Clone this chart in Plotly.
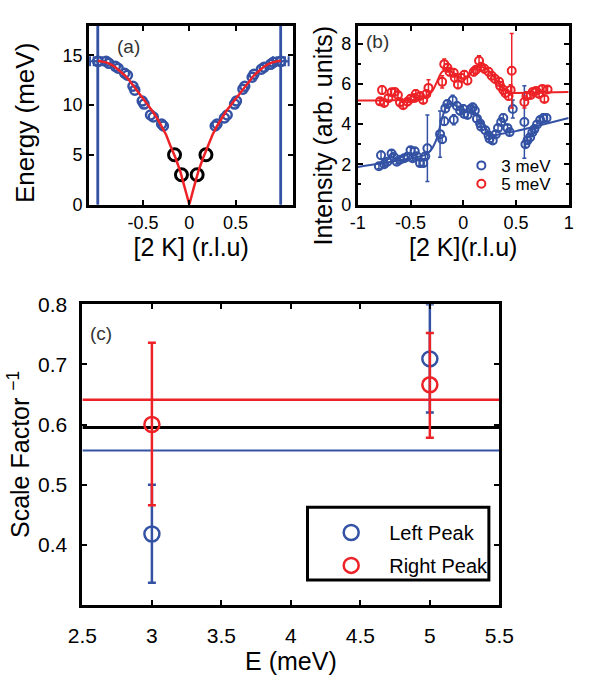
import plotly.graph_objects as go

W, H = 596, 676
BLUE = '#3452a4'
RED = '#ec2227'
FONT = 'Liberation Sans, Arial, sans-serif'

# ---------------- Panel (a): dispersion ----------------
a_blue_x = [-0.90, -0.87, -0.80, -0.77, -0.70, -0.67, -0.61, -0.59, -0.51, -0.49, -0.42, -0.39, -0.30, -0.28,
            0.28, 0.30, 0.38, 0.41, 0.49, 0.51, 0.58, 0.60, 0.68, 0.70, 0.78, 0.81, 0.88, 0.91]
a_blue_y = [14.4, 14.2, 13.9, 13.7, 13.2, 13.0, 11.9, 11.5, 10.4, 10.1, 9.0, 8.8, 8.1, 7.9,
            7.9, 8.1, 8.7, 9.0, 10.1, 10.4, 11.6, 11.9, 12.8, 13.1, 13.6, 13.8, 14.1, 14.3]
a_black_x = [-0.16, -0.085, 0.085, 0.18]
a_black_y = [5.0, 3.0, 3.0, 5.0]
a_end_x = [-0.99, -0.99, 0.99, 0.99]
a_end_y = [14.4, 14.4, 14.4, 14.4]
a_end_xerr = [0.045, 0.085, 0.045, 0.085]
a_end_yerr = [40, 40, 40, 40]
a_fit_x = [-0.99, -0.95, -0.9, -0.85, -0.8, -0.75, -0.7, -0.65, -0.6, -0.55, -0.5, -0.45, -0.4, -0.35, -0.3,
           -0.25, -0.2, -0.15, -0.1, -0.05, 0.0, 0.05, 0.1, 0.15, 0.2, 0.25, 0.3, 0.35, 0.4, 0.45, 0.5,
           0.55, 0.6, 0.65, 0.7, 0.75, 0.8, 0.85, 0.9, 0.95, 0.99]
a_fit_y = [14.45, 14.4, 14.3, 14.1, 13.8, 13.4, 13.0, 12.5, 11.9, 11.2, 10.6, 10.0, 9.4, 8.7, 7.9,
           7.0, 5.8, 4.7, 3.4, 1.75, 0.0, 1.75, 3.4, 4.7, 5.8, 7.0, 7.9, 8.7, 9.4, 10.0, 10.6,
           11.2, 11.9, 12.5, 13.0, 13.4, 13.8, 14.1, 14.3, 14.4, 14.45]
a_xticks = [-0.5, 0, 0.5]
a_xticktext = ['-0.5', '0', '0.5']
a_yticks = [0, 5, 10, 15]

# ---------------- Panel (b): intensity cuts ----------------
b3_x = [-0.80, -0.78, -0.75, -0.72, -0.68, -0.66, -0.63, -0.60, -0.56, -0.53, -0.50, -0.48, -0.46, -0.44, -0.41,
        -0.38, -0.36, -0.34, -0.22, -0.20, -0.18, -0.17, -0.15, -0.10, -0.09, -0.06, -0.03, 0.00, 0.01, 0.04,
        0.07, 0.09, 0.11, 0.13, 0.16, 0.17, 0.21, 0.24, 0.25, 0.28, 0.31, 0.33, 0.36, 0.38, 0.42,
        0.44, 0.47, 0.58, 0.59, 0.61, 0.635, 0.655, 0.675, 0.70, 0.73, 0.76, 0.79]
b3_y = [1.90, 2.45, 2.00, 2.13, 2.54, 2.38, 2.13, 2.23, 2.30, 2.38, 2.70, 2.30, 2.65, 2.40, 2.06,
        2.06, 2.40, 2.80, 3.50, 3.25, 4.14, 4.78, 5.00, 5.18, 4.22, 4.90, 4.67, 4.75, 4.50, 4.45,
        4.75, 4.83, 4.67, 4.27, 4.03, 3.87, 3.69, 3.43, 3.27, 3.18, 3.50, 3.80, 4.10, 4.30, 3.80,
        3.60, 4.75, 4.10, 3.00, 3.20, 3.35, 3.58, 3.75, 3.98, 4.20, 4.30, 4.30]
b3_err = [0.12, 0.2, 0.12, 0.12, 0.15, 0.12, 0.12, 0.12, 0.12, 0.12, 0.15, 0.12, 0.15, 0.12, 0.12,
          0.12, 0.12, 1.65, 1.15, 0.2, 0.2, 0.2, 0.2, 0.25, 0.25, 0.2, 0.2, 0.2, 0.15, 0.15,
          0.15, 0.2, 0.15, 0.15, 0.15, 0.15, 0.15, 0.15, 0.15, 0.15, 0.15, 0.15, 0.15, 0.2, 0.15,
          0.15, 0.45, 1.8, 0.15, 0.15, 0.15, 0.15, 0.15, 0.15, 0.15, 0.2, 0.15]
b5_x = [-0.79, -0.77, -0.75, -0.71, -0.68, -0.65, -0.62, -0.60, -0.57, -0.53, -0.50, -0.46, -0.45, -0.41, -0.38,
        -0.35, -0.33, -0.20, -0.18, -0.15, -0.13, -0.09, -0.08, -0.05, -0.02, 0.01, 0.04, 0.10, 0.12, 0.15,
        0.17, 0.20, 0.24, 0.27, 0.30, 0.34, 0.35, 0.38, 0.40, 0.43, 0.45, 0.46, 0.58, 0.60, 0.64,
        0.66, 0.69, 0.72, 0.75, 0.77, 0.80]
b5_y = [5.13, 5.69, 5.05, 5.29, 5.58, 5.60, 5.45, 5.08, 4.94, 5.11, 5.26, 5.30, 5.50, 5.40, 5.20,
        5.50, 5.80, 6.10, 6.98, 6.80, 6.60, 6.55, 6.30, 5.97, 6.30, 6.45, 6.17, 6.60, 6.70, 7.15,
        6.85, 6.75, 6.60, 6.40, 6.25, 6.10, 5.90, 5.70, 5.55, 5.40, 5.70, 6.65, 5.10, 5.40, 5.45,
        5.60, 5.65, 5.50, 5.75, 5.25, 5.72]
b5_err = [0.15, 0.2, 0.15, 0.15, 0.15, 0.15, 0.15, 0.15, 0.15, 0.15, 0.15, 0.15, 0.2, 0.15, 0.15,
          0.2, 0.4, 0.3, 0.25, 0.2, 0.2, 0.2, 0.2, 0.2, 0.2, 0.2, 0.2, 0.2, 0.2, 0.25,
          0.2, 0.2, 0.2, 0.2, 0.2, 0.2, 0.2, 0.2, 0.2, 0.2, 0.25, 1.85, 0.3, 0.2, 0.15,
          0.15, 0.15, 0.15, 0.15, 0.15, 0.15]
b3_fit_x = [-1.0, -0.6, -0.4, -0.35, -0.3, -0.25, -0.2, -0.15, -0.1, -0.05, 0.0, 0.05, 0.1, 0.15, 0.2, 0.25,
            0.3, 0.35, 0.4, 0.5, 0.7, 1.0]
b3_fit_y = [1.87, 2.2, 2.4, 2.5, 2.75, 3.3, 4.3, 4.95, 5.0, 4.85, 4.7, 4.6, 4.6, 4.35, 3.9, 3.55,
            3.45, 3.5, 3.55, 3.65, 3.9, 4.3]
b5_fit_x = [-1.0, -0.6, -0.4, -0.3, -0.25, -0.2, -0.15, -0.1, -0.05, 0.0, 0.05, 0.1, 0.15, 0.2, 0.25, 0.3,
            0.35, 0.4, 0.45, 0.5, 1.0]
b5_fit_y = [5.17, 5.2, 5.25, 5.6, 6.1, 6.6, 6.7, 6.55, 6.35, 6.25, 6.4, 6.7, 6.85, 6.8, 6.6, 6.3,
            5.95, 5.65, 5.55, 5.55, 5.6]
b_xticks = [-1, -0.5, 0, 0.5, 1]
b_xticktext = ['-1', '-0.5', '0', '0.5', '1']
b_yticks = [0, 2, 4, 6, 8]

# ---------------- Panel (c): scale factors ----------------
c_E = [3, 5]
c_left = [0.418, 0.709]
c_left_up = [0.082, 0.091]
c_left_dn = [0.081, 0.089]
c_right = [0.600, 0.666]
c_right_up = [0.136, 0.086]
c_right_dn = [0.134, 0.088]
c_hlines = [0.641, 0.595, 0.557]
c_hline_colors = [RED, 'black', BLUE]
c_hline_widths = [2.5, 3, 2]
c_xticks = [2.5, 3, 3.5, 4, 4.5, 5, 5.5]
c_yticks = [0.4, 0.5, 0.6, 0.7, 0.8]

fig = go.Figure()

# panel (a)
fig.add_trace(go.Scatter(x=a_end_x, y=a_end_y, mode='markers', xaxis='x', yaxis='y', showlegend=False,
                         marker=dict(symbol='circle-open', size=9, color=BLUE, line=dict(width=2.5)),
                         error_x=dict(type='data', array=a_end_xerr, color=BLUE, thickness=2, width=5),
                         error_y=dict(type='data', array=a_end_yerr, color=BLUE, thickness=2.5, width=0)))
fig.add_trace(go.Scatter(x=a_blue_x, y=a_blue_y, mode='markers', xaxis='x', yaxis='y', showlegend=False,
                         marker=dict(symbol='circle-open', size=9, color=BLUE, line=dict(width=2.5))))
fig.add_trace(go.Scatter(x=a_black_x, y=a_black_y, mode='markers', xaxis='x', yaxis='y', showlegend=False,
                         marker=dict(symbol='circle-open', size=12, color='black', line=dict(width=3))))
fig.add_trace(go.Scatter(x=a_fit_x, y=a_fit_y, mode='lines', xaxis='x', yaxis='y', showlegend=False,
                         line=dict(color=RED, width=2.5)))

# panel (b)
fig.add_trace(go.Scatter(x=b3_fit_x, y=b3_fit_y, mode='lines', xaxis='x2', yaxis='y2', showlegend=False,
                         line=dict(color=BLUE, width=2, shape='spline')))
fig.add_trace(go.Scatter(x=b5_fit_x, y=b5_fit_y, mode='lines', xaxis='x2', yaxis='y2', showlegend=False,
                         line=dict(color=RED, width=2, shape='spline')))
fig.add_trace(go.Scatter(x=b3_x, y=b3_y, mode='markers', xaxis='x2', yaxis='y2', name='3 meV', legend='legend',
                         marker=dict(symbol='circle-open', size=8, color=BLUE, line=dict(width=2)),
                         error_y=dict(type='data', array=b3_err, color=BLUE, thickness=1.5, width=2)))
fig.add_trace(go.Scatter(x=b5_x, y=b5_y, mode='markers', xaxis='x2', yaxis='y2', name='5 meV', legend='legend2',
                         marker=dict(symbol='circle-open', size=8, color=RED, line=dict(width=2)),
                         error_y=dict(type='data', array=b5_err, color=RED, thickness=1.5, width=2)))

# panel (c)
for v, c, w in zip(c_hlines, c_hline_colors, c_hline_widths):
    fig.add_trace(go.Scatter(x=[c_xticks[0], c_xticks[-1]], y=[v, v], mode='lines', xaxis='x3', yaxis='y3',
                             showlegend=False, line=dict(color=c, width=w)))
fig.add_trace(go.Scatter(x=c_E, y=c_left, mode='markers', xaxis='x3', yaxis='y3', name='Left Peak', legend='legend3',
                         marker=dict(symbol='circle-open', size=15, color=BLUE, line=dict(width=2.5)),
                         error_y=dict(type='data', symmetric=False, array=c_left_up, arrayminus=c_left_dn,
                                      color=BLUE, thickness=2.5, width=4)))
fig.add_trace(go.Scatter(x=c_E, y=c_right, mode='markers', xaxis='x3', yaxis='y3', name='Right Peak', legend='legend4',
                         marker=dict(symbol='circle-open', size=15, color=RED, line=dict(width=2.5)),
                         error_y=dict(type='data', symmetric=False, array=c_right_up, arrayminus=c_right_dn,
                                      color=RED, thickness=2.5, width=4)))

def px(p):
    return p / W

def py(p):
    return 1 - p / H

axis_common = dict(showline=True, linecolor='black', linewidth=3, mirror='ticks', ticks='inside',
                   ticklen=5, tickwidth=1.5, tickcolor='black', showgrid=False, zeroline=False)
small_tick = dict(family=FONT, size=18, color='black')
big_tick = dict(family=FONT, size=21, color='black')
title_font = dict(family=FONT, size=25, color='black')
leg_font = dict(family=FONT, size=20, color='black')
legb_font = dict(family=FONT, size=17, color='black')

fig.update_layout(
    width=W, height=H, autosize=False,
    margin=dict(l=0, r=0, t=0, b=0),
    paper_bgcolor='white', plot_bgcolor='white',
    font=dict(family=FONT, color='black'),
    xaxis=dict(domain=[px(78), px(293)], range=[-1.085, 1.125], anchor='y',
               tickvals=a_xticks, ticktext=a_xticktext, tickfont=small_tick,
               title=dict(text='[2 K] (r.l.u)', font=title_font, standoff=6), **axis_common),
    yaxis=dict(domain=[py(199), py(14)], range=[0, 18], anchor='x',
               tickvals=a_yticks, tickfont=small_tick, **axis_common),
    xaxis2=dict(domain=[px(361), px(583)], range=[-1, 1], anchor='y2',
                tickvals=b_xticks, ticktext=b_xticktext, tickfont=small_tick,
                title=dict(text='[2 K](r.l.u)', font=title_font, standoff=6), **axis_common),
    yaxis2=dict(domain=[py(199), py(14)], range=[0, 8.9], anchor='x2',
                tickvals=b_yticks, tickfont=small_tick,
                minor=dict(dtick=1, ticks='inside', ticklen=3, tickwidth=1.5, tickcolor='black'),
                **axis_common),
    xaxis3=dict(domain=[px(71), px(510)], range=[2.5, 5.5], anchor='y3',
                tickvals=c_xticks, tickfont=big_tick, ticklabelstandoff=10,
                title=dict(text='E (meV)', font=title_font, standoff=2), **axis_common),
    yaxis3=dict(domain=[py(613), py(302)], range=[0.3, 0.8], anchor='x3',
                tickvals=c_yticks, tickfont=big_tick, ticklabelstandoff=8, **axis_common),
    legend=dict(x=px(470), y=py(159), xanchor='left', yanchor='middle', bgcolor='rgba(0,0,0,0)',
                font=legb_font, itemwidth=30),
    legend2=dict(x=px(470), y=py(178), xanchor='left', yanchor='middle', bgcolor='rgba(0,0,0,0)',
                 font=legb_font, itemwidth=30),
    legend3=dict(x=px(314), y=py(538), xanchor='left', yanchor='middle', bgcolor='rgba(0,0,0,0)',
                 font=leg_font, itemwidth=66),
    legend4=dict(x=px(314), y=py(572), xanchor='left', yanchor='middle', bgcolor='rgba(0,0,0,0)',
                 font=leg_font, itemwidth=66),
    shapes=[dict(type='rect', xref='paper', yref='paper', x0=px(308), x1=px(499), y0=py(587), y1=py(512),
                 line=dict(color='black', width=3), fillcolor='rgba(0,0,0,0)', layer='above')],
    annotations=[
        dict(text='Energy (meV)', xref='paper', yref='paper', x=px(24), y=py(115), textangle=-90, xshift=-13,
             showarrow=False, xanchor='center', yanchor='middle', font=dict(family=FONT, size=26, color='black')),
        dict(text='Intensity (arb. units)', xref='paper', yref='paper', x=px(324), y=py(128), textangle=-90,
             showarrow=False, xanchor='center', yanchor='middle', font=title_font),
        dict(text='Scale Factor <sup>−1</sup>', xref='paper', yref='paper', x=px(22), y=py(457), textangle=-90,
             xshift=-17, showarrow=False, xanchor='center', yanchor='middle', font=title_font),
        dict(text='(a)', xref='paper', yref='paper', x=px(119), y=py(36), showarrow=False,
             xanchor='center', yanchor='middle', font=dict(family=FONT, size=19, color='#333333')),
        dict(text='(b)', xref='paper', yref='paper', x=px(382), y=py(30), showarrow=False,
             xanchor='center', yanchor='middle', font=dict(family=FONT, size=19, color='#333333')),
        dict(text='(c)', xref='paper', yref='paper', x=px(91), y=py(332), showarrow=False,
             xanchor='center', yanchor='middle', font=dict(family=FONT, size=19, color='#333333')),
    ],
)

fig.write_html('out.html')
